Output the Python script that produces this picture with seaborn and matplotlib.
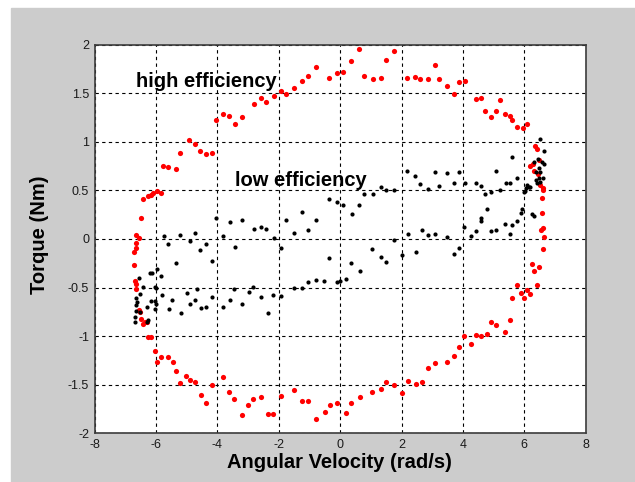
import numpy as np
import matplotlib
matplotlib.use("Agg")
import matplotlib.pyplot as plt
from matplotlib.patches import Rectangle
import seaborn as sns

# high efficiency (red ring)
red_x = [-6.65, -6.57, -6.5, -6.43, -6.27, -6.16, -6.09, -5.98, -5.84,
         -5.76, -5.61, -5.35, -5.21, -4.92, -4.72, -4.58, -4.38, -4.17,
         -4.05, -3.83, -3.61, -3.42, -3.2, -2.8, -2.58, -2.42, -2.16,
         -1.94, -1.75, -1.5, -1.24, -1.04, -0.78, -0.36, -0.09, 0.1, 0.35, 0.62,
         0.79, 1.08, 1.34, 1.48, 1.76, 2.19, 2.45, 2.6, 2.86, 3.09, 3.23, 3.49,
         3.72, 3.86, 4.08, 4.41, 4.6, 4.71, 4.93, 5.08, 5.2, 5.38, 5.52, 5.59,
         5.75, 5.97, 6.09, 6.36, 6.42, 6.49, 6.2, 6.28, 6.33, 6.45, 6.52, 6.61,
         6.6, 6.58, 6.58, 6.53, 6.6, 6.65,
         6.61, 6.25, 6.33, 6.49, 5.75, 5.59, 5.9, 5.98, 6.09, 6.2, 6.41, 5.52,
         4.9, 5.08, 5.37, 4.03, 4.41, 4.6, 4.79, 3.86, 4.27, 3.71, 3.49, 3.09,
         2.86, 2.68, 2.46, 2.2, 1.76, 1.48, 2.0, 1.34, 1.04, 0.64, 0.35, 0.18,
         -6.66, -6.67, -6.73, -6.73, -6.68, -6.66, -6.65, -6.57, -6.52, -6.5,
         -6.43, -6.35, -6.3, -6.27, -6.16, -6.05, -5.98, -5.84, -5.61, -5.46,
         -5.35, -5.21, -5.01, -4.9, -4.72, -4.52, -4.38, -4.17, -3.83, -3.61,
         -3.45, -3.2, -2.99, -2.83, -2.58, -2.35, -2.2, -1.94, -1.49, -1.24,
         -1.04, -0.78, -0.51, -0.33, -0.1]
red_y = [0.045, 0.01, 0.22, 0.41, 0.44, 0.45, 0.47, 0.49, 0.47,
         0.755, 0.735, 0.72, 0.887, 1.02, 0.98, 0.9, 0.876, 0.887,
         1.22, 1.28, 1.26, 1.18, 1.25, 1.385, 1.445, 1.41, 1.47,
         1.52, 1.49, 1.55, 1.62, 1.68, 1.77, 1.66, 1.71, 1.72, 1.83, 1.95,
         1.68, 1.65, 1.66, 1.84, 1.93, 1.66, 1.67, 1.65, 1.65, 1.79, 1.65, 1.57,
         1.49, 1.61, 1.62, 1.44, 1.45, 1.32, 1.25, 1.32, 1.43, 1.28, 1.26, 1.22,
         1.15, 1.14, 1.18, 0.96, 0.92, 0.81, 0.75, 0.77, 0.7, 0.67, 0.55, 0.52,
         0.5, 0.42, 0.27, 0.09, 0.11, 0.02,
         -0.1, -0.26, -0.33, -0.29, -0.47, -0.61, -0.56, -0.61, -0.53, -0.57, -0.47, -0.83,
         -0.855, -0.89, -0.96, -1.0, -0.99, -1.0, -0.98, -1.11, -1.08, -1.2, -1.27, -1.28,
         -1.33, -1.47, -1.49, -1.46, -1.5, -1.47, -1.59, -1.54, -1.57, -1.63, -1.69, -1.79,
         -0.04, -0.09, -0.13, -0.27, -0.43, -0.46, -0.52, -0.73, -0.75, -0.82,
         -0.88, -0.86, -0.85, -1.01, -1.01, -1.15, -1.27, -1.22, -1.22, -1.27,
         -1.36, -1.48, -1.41, -1.45, -1.47, -1.61, -1.69, -1.5, -1.42, -1.57,
         -1.65, -1.81, -1.71, -1.65, -1.63, -1.8, -1.8, -1.62, -1.55, -1.67,
         -1.67, -1.85, -1.78, -1.71, -1.69]

# low efficiency (black band)
black_x = [-5.75, -5.21, -4.72, -4.05, -3.82, -3.6, -3.19, -2.8, -2.58, -2.42,
           -2.16, -1.75, -1.5, -1.24, -1.04, -0.78, -0.36, -0.09, 0.1, 0.37, 0.62,
           0.79, 1.08, 1.34, 1.48, 1.76, 2.19, 2.45, 2.6, 2.86, 3.09, 3.23, 3.49,
           3.72, 3.86, 4.08, 4.41, 4.6, 4.71, 4.93, 5.08, 5.2,
           5.41, 5.52, 5.61, 5.76, 5.98, 6.01, 6.04, 6.09, 6.15, 6.2, 6.52, 6.65,
           6.33, 6.44, 6.59, 6.65, 6.48, 6.52, 6.38, 6.47, 6.61, 6.39, 6.52, 6.42,
           5.92, 5.88, 6.26, 6.33, 4.79, 4.6,
           0.18, 0.35, 0.64, 1.04, 1.34, 1.48, 1.76, 2.0, 2.2, 2.46, 2.68, 2.86,
           3.09, 3.49, 3.71, 3.86, 4.04, 4.27, 4.41, 4.6, 4.9, 5.08, 5.38, 5.52,
           5.6, 5.75,
           -5.61, -4.9, -4.38, -4.56, -4.17, -3.42, -1.94, -0.36,
           -3.83, -3.6, -3.45, -3.19, -2.98, -2.83, -2.58, -2.34, -2.2, -1.94,
           -1.49, -1.24, -1.04, -0.78, -0.52, -0.1, -0.02, -4.17, -4.52, -4.38,
           -5.97, -6.21, -6.13, -5.83, -5.34, -6.55, -6.41, -6.05, -6.01, -6.51,
           -6.64, -5.82, -6.16, -6.04, -6.01, -6.62, -6.65, -6.29, -6.67, -6.52,
           -6.02, -5.59, -5.48, -5.2, -4.99, -4.9, -4.72, -4.68, -6.7, -6.7,
           -6.26, -6.3]
black_y = [0.03, 0.045, 0.06, 0.21, 0.03, 0.17, 0.19, 0.1, 0.125, 0.1,
           0.01, 0.19, 0.06, 0.28, 0.09, 0.19, 0.41, 0.38, 0.35, 0.26, 0.35,
           0.46, 0.46, 0.53, 0.5, 0.5, 0.7, 0.65, 0.56, 0.51, 0.69, 0.54, 0.68,
           0.57, 0.69, 0.57, 0.58, 0.54, 0.46, 0.48, 0.7, 0.5,
           0.57, 0.57, 0.84, 0.63, 0.48, 0.49, 0.52, 0.55, 0.53, 0.53, 1.03, 0.9,
           0.79, 0.82, 0.79, 0.77, 0.73, 0.69, 0.685, 0.63, 0.63, 0.61, 0.59, 0.57,
           0.31, 0.27, 0.26, 0.24, 0.31, 0.21,
           -0.41, -0.25, -0.33, -0.1, -0.19, -0.24, -0.01, -0.17, 0.055, -0.13, 0.09, 0.04,
           0.055, 0.02, -0.16, -0.09, 0.12, 0.03, 0.08, 0.18, 0.08, 0.09, 0.15, 0.055,
           0.14, 0.18,
           -0.05, -0.02, -0.05, -0.11, -0.23, -0.08, -0.09, -0.2,
           -0.7, -0.63, -0.52, -0.67, -0.55, -0.49, -0.6, -0.76, -0.58, -0.59,
           -0.5, -0.5, -0.44, -0.42, -0.43, -0.44, -0.43, -0.6, -0.71, -0.7,
           -0.31, -0.35, -0.35, -0.38, -0.25, -0.4, -0.49, -0.49, -0.5, -0.565,
           -0.61, -0.58, -0.64, -0.64, -0.67, -0.65, -0.68, -0.7, -0.74, -0.75,
           -0.72, -0.72, -0.63, -0.76, -0.555, -0.67, -0.63, -0.52, -0.8, -0.85,
           -0.83, -0.855]

x_ticks = [-8, -6, -4, -2, 0, 2, 4, 6, 8]
y_ticks = [-2, -1.5, -1, -0.5, 0, 0.5, 1, 1.5, 2]

sns.set_style("white")
plt.rcParams['font.family'] = ['Liberation Sans', 'DejaVu Sans']
plt.rcParams['text.color'] = 'black'
plt.rcParams['axes.labelcolor'] = 'black'

fig = plt.figure(figsize=(6.35, 4.82), dpi=100)
fig.patch.set_facecolor('white')
# grey MATLAB-like figure panel, drawn under the axes
fig.patches.append(Rectangle((11 / 635, 0), 1 - 11 / 635, 1 - 8 / 482,
                             transform=fig.transFigure, color='#cccccc', zorder=-10))

ax = fig.add_axes([94.7 / 635, 1 - 433.3 / 482, 491 / 635, 388.8 / 482])
ax.set_facecolor('white')

sns.scatterplot(x=red_x, y=red_y, color='#ff0000', s=14, linewidth=0, ax=ax, zorder=3)
sns.scatterplot(x=black_x, y=black_y, color='black', s=9, linewidth=0, ax=ax, zorder=3)

ax.set_xlim(-8, 8)
ax.set_ylim(-2, 2)
ax.set_xticks(x_ticks)
ax.set_yticks(y_ticks)
ax.set_xticklabels([f'{v:g}' for v in x_ticks])
ax.set_yticklabels([f'{v:g}' for v in y_ticks])
ax.tick_params(direction='in', length=3, width=0.8, labelsize=9,
               labelcolor='#1a1a1a', color='#333333', pad=4)

ax.grid(True, color='black', linestyle=(0, (3, 3)), linewidth=0.8)
ax.set_axisbelow(True)
for sp in ax.spines.values():
    sp.set_color('#3c3c3c')
    sp.set_linewidth(1.2)

ax.set_xlabel('Angular Velocity (rad/s)', fontsize=14.5, fontweight='bold', color='black')
ax.set_ylabel('Torque (Nm)', fontsize=14.5, fontweight='bold', color='black')
ax.xaxis.label.set_va('center')
ax.yaxis.label.set_va('center')
ax.xaxis.set_label_coords(0.4986, -(462 - 433.3) / 388.8)
ax.yaxis.set_label_coords((39 - 94.7) / 491, 0.51)

ax.text(-6.64, 1.56, 'high efficiency', fontsize=14.5, fontweight='bold',
        color='black', va='baseline', ha='left', zorder=4)
ax.text(-3.44, 0.54, 'low efficiency', fontsize=14.5, fontweight='bold',
        color='black', va='baseline', ha='left', zorder=4)

fig.savefig('out.png', dpi=100, facecolor=fig.get_facecolor())
